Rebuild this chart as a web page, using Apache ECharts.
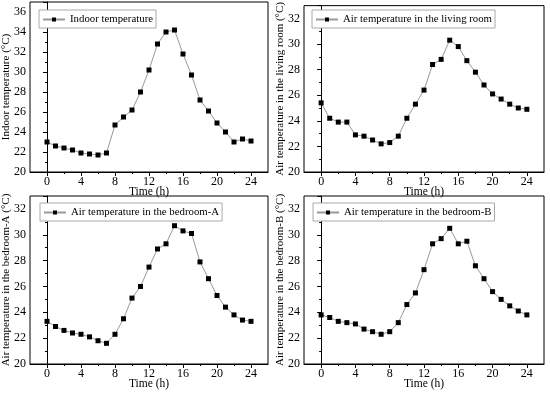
<!DOCTYPE html>
<html><head><meta charset="utf-8">
<script src="https://cdn.jsdelivr.net/npm/echarts@6/dist/echarts.min.js"></script>
<style>html,body{margin:0;padding:0;background:#fff}#c{width:550px;height:393px}</style>
</head><body><div id="c"></div>
<script>
const hours = [0,1,2,3,4,5,6,7,8,9,10,11,12,13,14,15,16,17,18,19,20,21,22,23,24];
const indoor = [23.0,22.6,22.4,22.2,21.9,21.8,21.7,21.9,24.7,25.5,26.2,28.0,30.2,32.8,34.0,34.2,31.8,29.7,27.2,26.1,24.9,24.0,23.0,23.3,23.1];
const living = [25.4,24.2,23.9,23.9,22.9,22.8,22.5,22.2,22.3,22.8,24.2,25.3,26.4,28.4,28.8,30.3,29.8,28.7,27.8,26.8,26.1,25.7,25.3,25.0,24.9];
const bedA = [23.3,22.9,22.6,22.4,22.3,22.1,21.8,21.6,22.3,23.5,25.1,26.0,27.5,28.9,29.3,30.7,30.3,30.1,27.9,26.6,25.3,24.4,23.8,23.4,23.3];
const bedB = [23.8,23.6,23.3,23.2,23.1,22.7,22.5,22.3,22.5,23.2,24.6,25.5,27.3,29.3,29.7,30.5,29.3,29.5,27.6,26.6,25.6,25.0,24.5,24.1,23.8];
const seriesNames = ['Indoor temperature','Air temperature in the living room','Air temperature in the bedroom-A','Air temperature in the bedroom-B'];
const yNames = ['Indoor temperature (\u00B0C)','Air temperature in the living room (\u00B0C)','Air temperature in the bedroom-A (\u00B0C)','Air temperature in the bedroom-B (\u00B0C)'];
const yMax = [37,33,33,33];
const xMajor = [0,4,8,12,16,20,24];
const xMinor = [2,6,10,14,18,22];
const xName = 'Time (h)';
const allData = [indoor, living, bedA, bedB];

const FF = 'Liberation Serif';
const grids = [
  {left:28, top:2, width:240, height:170},
  {left:304, top:2, width:240, height:170},
  {left:28, top:196, width:240, height:168},
  {left:304, top:196, width:240, height:168}
];
const legendPos = [[39,10],[312,10],[40,203],[313,203]];

const option = {
  animation:false,
  backgroundColor:'#fff',
  textStyle:{fontFamily:FF},
  grid: grids.map(g=>Object.assign({show:true,borderColor:'#000',borderWidth:1,backgroundColor:'transparent'},g)),
  xAxis: [], yAxis: [], series: [], legend: []
};
for (let i=0;i<4;i++){
  option.xAxis.push({
    type:'value', gridIndex:i, min:-2, max:26, interval:2,
    name:xName, nameLocation:'middle', nameGap:14, nameMoveOverlap:false,
    nameTextStyle:{fontFamily:FF,fontSize:11.5,color:'#000'},
    axisLine:{show:true,lineStyle:{color:'#000',width:1}},
    axisTick:{show:true,inside:false,length:4,customValues:xMajor,lineStyle:{color:'#000'}},
    axisLabel:{customValues:xMajor,margin:4,fontFamily:FF,fontSize:12,color:'#000'},
    splitLine:{show:false}
  });
  option.xAxis.push({
    type:'value', gridIndex:i, min:-2, max:26, interval:2, position:'bottom',
    axisLine:{show:false},
    axisTick:{show:true,length:2,customValues:xMinor,lineStyle:{color:'#000'}},
    axisLabel:{show:false}, splitLine:{show:false}
  });
  option.yAxis.push({
    type:'value', gridIndex:i, min:20, max:yMax[i], interval:2,
    name:yNames[i], nameLocation:'middle', nameGap:18, nameMoveOverlap:false,
    nameTextStyle:{fontFamily:FF,fontSize:11,color:'#000'},
    axisLine:{show:true,lineStyle:{color:'#000',width:1}},
    axisTick:{show:true,length:4,lineStyle:{color:'#000'}},
    minorTick:{show:true,splitNumber:2,length:2,lineStyle:{color:'#000'}},
    axisLabel:{showMaxLabel:false,margin:4,fontFamily:FF,fontSize:12,color:'#000'},
    splitLine:{show:false}
  });
  option.series.push({
    type:'line', name:seriesNames[i], xAxisIndex:2*i, yAxisIndex:i,
    data: hours.map((h,k)=>[h, allData[i][k]]),
    symbol:'rect', symbolSize:5,
    lineStyle:{color:'#999',width:1},
    itemStyle:{color:'#000'}
  });
  option.legend.push({
    data:[seriesNames[i]], left:legendPos[i][0], top:legendPos[i][1],
    orient:'horizontal', borderColor:'#aaa', borderWidth:1, backgroundColor:'#fff',
    padding:[4,3,3,3], itemWidth:22, itemHeight:5, itemGap:4,
    textStyle:{fontFamily:FF,fontSize:10.8,color:'#000'}
  });
}
const chart = echarts.init(document.getElementById('c'), null, {renderer:'canvas'});
chart.setOption(option);
</script></body></html>
